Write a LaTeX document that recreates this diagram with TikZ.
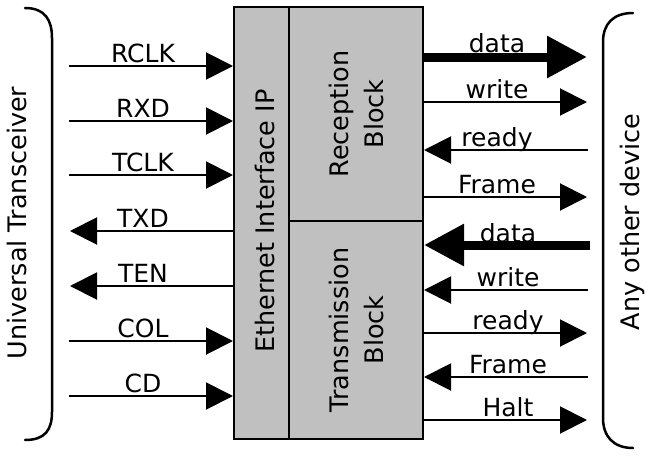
\documentclass[tikz,border=0pt]{standalone}
\usepackage{fontspec}
\setmainfont{DejaVu Sans}
\usetikzlibrary{arrows.meta}
\definecolor{boxgray}{RGB}{192,192,192}
\begin{document}
\begin{tikzpicture}[x=1pt,y=-1pt,
 blk/.style={draw=black, line width=2pt, fill=boxgray, inner sep=0pt},
 sig/.style={line width=2pt, -{Triangle[length=27pt,width=27pt]}},
 bus/.style={line width=9pt, -{Triangle[length=40pt,width=40pt]}},
 lbl/.style={font=\fontsize{25}{29}\selectfont, anchor=base, inner sep=0pt},
 vlbl/.style={font=\fontsize{25.5}{35}\selectfont, rotate=90, align=center, inner sep=0pt},
 brace/.style={line width=2.5pt, line cap=round}
]
\useasboundingbox (0,0) rectangle (654,461);

% blocks
\node[blk, minimum width=55pt, minimum height=432pt] (eth) at (261.5,223) {};
\node[blk, minimum width=134pt, minimum height=214pt] (rec) at (356,114) {};
\node[blk, minimum width=134pt, minimum height=218pt] (tra) at (356,330) {};
\node[vlbl] (ethl) at (265,221) {Ethernet Interface IP};
\node[vlbl] (recl) at (356,114) {Reception\\Block};
\node[vlbl] (tral) at (356,330) {Transmission\\Block};

% side labels
\node[vlbl] (ut) at (17,223) {Universal Transceiver};
\node[vlbl] (aod) at (632,222) {Any other device};

% braces
\draw[brace] (25,8) .. controls (45,8) and (52,20) .. (52,38) -- (52,412) .. controls (52,430) and (45,440) .. (25,440);
\draw[brace] (633,13) .. controls (613,13) and (603,24) .. (603,42) -- (603,418) .. controls (603,436) and (613,448) .. (633,448);

% left side signals
\coordinate (a1) at (69,66);
\coordinate (a2) at (69,121);
\coordinate (a3) at (69,175);
\coordinate (a4) at (70,231);
\coordinate (a5) at (70,286);
\coordinate (a6) at (69,341);
\coordinate (a7) at (69,396);
\draw[sig] (a1) -- (a1 -| eth.west);
\draw[sig] (a2) -- (a2 -| eth.west);
\draw[sig] (a3) -- (a3 -| eth.west);
\draw[sig] (a4 -| eth.west) -- (a4);
\draw[sig] (a5 -| eth.west) -- (a5);
\draw[sig] (a6) -- (a6 -| eth.west);
\draw[sig] (a7) -- (a7 -| eth.west);
\node[lbl] (t1) at (143,62) {RCLK};
\node[lbl] (t2) at (143,117) {RXD};
\node[lbl] (t3) at (143,171) {TCLK};
\node[lbl] (t4) at (143,227) {TXD};
\node[lbl] (t5) at (143,282) {TEN};
\node[lbl] (t6) at (143,337) {COL};
\node[lbl] (t7) at (143,392) {CD};

% right side signals, reception
\coordinate (b1) at (587,57);
\coordinate (b2) at (587,102);
\coordinate (b3) at (588,150);
\coordinate (b4) at (587,197);
\draw[bus] (b1 -| rec.east) -- (b1);
\draw[sig] (b2 -| rec.east) -- (b2);
\draw[sig] (b3) -- (b3 -| rec.east);
\draw[sig] (b4 -| rec.east) -- (b4);
\node[lbl] (r1) at (497,52) {data};
\node[lbl] (r2) at (497,98) {write};
\node[lbl] (r3) at (497,146) {ready};
\node[lbl] (r4) at (497,193) {Frame};

% right side signals, transmission
\coordinate (c1) at (590,245);
\coordinate (c2) at (588,290);
\coordinate (c3) at (587,333);
\coordinate (c4) at (588,377);
\coordinate (c5) at (587,420);
\draw[bus] (c1) -- (c1 -| tra.east);
\draw[sig] (c2) -- (c2 -| tra.east);
\draw[sig] (c3 -| tra.east) -- (c3);
\draw[sig] (c4) -- (c4 -| tra.east);
\draw[sig] (c5 -| tra.east) -- (c5);
\node[lbl] (s1) at (508,242) {data};
\node[lbl] (s2) at (508,286) {write};
\node[lbl] (s3) at (508,329) {ready};
\node[lbl] (s4) at (508,373) {Frame};
\node[lbl] (s5) at (508,416) {Halt};
\end{tikzpicture}
\end{document}
